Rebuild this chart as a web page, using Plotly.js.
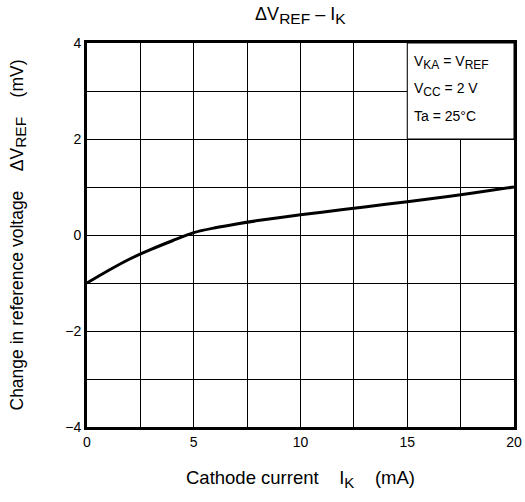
<!DOCTYPE html>
<html>
<head>
<meta charset="utf-8">
<script src="https://cdn.plot.ly/plotly-3.0.1.min.js"></script>
<style>html,body{margin:0;padding:0;background:#fff;}#chart{width:525px;height:502px;}</style>
</head>
<body>
<div id="chart"></div>
<script>
const currentMA = [0, 1, 2, 3, 4, 5, 6, 7, 8, 10, 12, 14, 16, 18, 20];
const deltaVref = [-1.0, -0.74, -0.5, -0.3, -0.12, 0.05, 0.15, 0.23, 0.3, 0.42, 0.53, 0.64, 0.75, 0.87, 1.0];
const xTickVals = [0, 5, 10, 15, 20];
const xTickText = ['0', '5', '10', '15', '20'];
const yTickVals = [-4, -2, 0, 2, 4];
const yTickText = ['\u22124', '\u22122', '0', '2', '4'];

function sub(t, px) { return '<sub><span style="font-size:' + px + 'px">' + t + '</span></sub>'; }
const conditions = ['V' + sub('KA', 12) + ' = V' + sub('REF', 12), 'V' + sub('CC', 12) + ' = 2 V', 'Ta = 25°C'];

const font = {family: 'Liberation Sans, Arial, sans-serif', color: '#000'};

const trace = {
  x: currentMA, y: deltaVref, type: 'scatter', mode: 'lines',
  line: {color: '#000', width: 3, shape: 'spline', smoothing: 0.8},
  hoverinfo: 'skip'
};

const annotations = conditions.map((t, i) => ({
  xref: 'paper', yref: 'paper', x: 0.76, y: 0.948 - i * 0.069,
  xanchor: 'left', yanchor: 'middle', showarrow: false,
  text: t, font: Object.assign({size: 14}, font)
}));

const gridStyle = {showgrid: true, gridcolor: '#000', gridwidth: 1};

const layout = {
  width: 525, height: 502,
  margin: {l: 87, r: 11, t: 43, b: 75},
  paper_bgcolor: '#fff', plot_bgcolor: '#fff',
  font: Object.assign({size: 14}, font),
  showlegend: false,
  title: {text: '\u0394V' + sub('REF', 15.5) + ' \u2013 I' + sub('K', 15.5), x: 0.572, xanchor: 'center', y: 0.972, yanchor: 'middle', font: Object.assign({size: 18}, font)},
  xaxis: Object.assign({
    range: [0, 20],
    showline: true, linecolor: '#000', linewidth: 3, mirror: true,
    zeroline: false, ticks: '',
    tickvals: xTickVals, ticktext: xTickText,
    minor: Object.assign({dtick: 2.5, tick0: 0, ticks: ''}, gridStyle),
    tickfont: Object.assign({size: 14}, font),
    title: {text: 'Cathode current    I' + sub('K', 15) + '    (mA)', font: Object.assign({size: 18.5}, font), standoff: 23}
  }, gridStyle),
  yaxis: Object.assign({
    range: [-4, 4],
    showline: true, linecolor: '#000', linewidth: 3, mirror: true,
    zeroline: false, ticks: '',
    tickvals: yTickVals, ticktext: yTickText,
    minor: Object.assign({dtick: 1, tick0: 0, ticks: ''}, gridStyle),
    tickfont: Object.assign({size: 14}, font),
    title: {text: 'Change in reference voltage    \u0394V' + sub('REF', 15.5) + '    (mV)', font: Object.assign({size: 17.5}, font), standoff: 38}
  }, gridStyle),
  shapes: [{
    type: 'rect', xref: 'x', yref: 'y', x0: 15, x1: 20, y0: 2, y1: 4,
    fillcolor: '#fff', line: {color: '#000', width: 1}, layer: 'above'
  }],
  annotations: annotations
};

Plotly.newPlot('chart', [trace], layout, {staticPlot: true, displayModeBar: false});
</script>
</body>
</html>
